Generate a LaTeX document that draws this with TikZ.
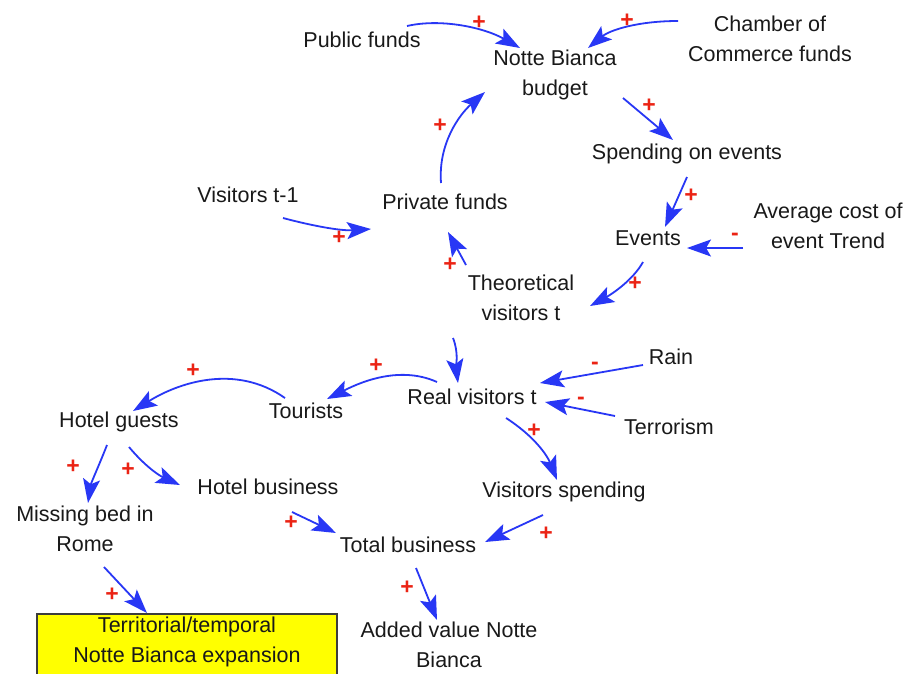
\documentclass[tikz,border=0pt]{standalone}
\usepackage{fontspec}
\setmainfont{Liberation Sans}
\usetikzlibrary{arrows.meta,calc}
\definecolor{cldblue}{RGB}{40,55,245}
\definecolor{cldred}{RGB}{235,35,20}
\definecolor{boxyellow}{RGB}{255,255,0}
\definecolor{boxedge}{RGB}{60,60,60}
\definecolor{txt}{RGB}{25,25,25}
\begin{document}
\begin{tikzpicture}[x=1pt,y=-1pt,
  var/.style={font=\fontsize{21.5}{30}\selectfont, align=center, inner sep=0pt, text=txt},
  link/.style={draw=cldblue, line width=1.8pt, -{Stealth[length=24pt,width=17pt,inset=5pt]}},
  polsign/.style={font=\fontsize{23}{23}\selectfont\bfseries, text=cldred, inner sep=0pt},
  expbox/.style={draw=boxedge, line width=1.5pt, fill=boxyellow, minimum width=300pt, minimum height=90pt, inner sep=0pt}
]
\useasboundingbox[fill=white] (0,0) rectangle (909,673);

% variables
\node[var] (pub)   at (362,40)  {Public funds};
\node[var] (bud)   at (555,75)  {Notte Bianca\\budget};
\node[var] (cham)  at (770,39)  {Chamber of\\Commerce funds};
\node[var] (spend) at (687,154) {Spending on events};
\node[var] (ev)    at (648,238) {Events};
\node[var] (avg)   at (828,226) {Average cost of\\event Trend};
\node[var] (vt1)   at (248,195) {Visitors t-1};
\node[var] (priv)  at (445,202) {Private funds};
\node[var] (theo)  at (521,298) {Theoretical\\visitors t};
\node[var] (real)  at (472,397) {Real visitors t};
\node[var] (rain)  at (671,357) {Rain};
\node[var] (terr)  at (669,427) {Terrorism};
\node[var] (tour)  at (306,411) {Tourists};
\node[var] (hg)    at (119,422) {Hotel guests};
\node[var] (hb)    at (268,487) {Hotel business};
\node[var] (vs)    at (564,492) {Visitors spending};
\node[var] (miss)  at (85,529)  {Missing bed in\\Rome};
\node[var] (tb)    at (408,545) {Total business};
\node[var] (av)    at (449,645) {Added value Notte\\Bianca};
\node[expbox, anchor=north] (exp) at (187,613) {};
\node[var] (expl)  at (187,642) {Territorial/temporal\\Notte Bianca expansion};

% links
\draw[link] ($(pub)+(45,-14)$) .. controls +(35,-8) and +(-35,-20) .. ($(bud)+(-35,-27)$);
\draw[link] ($(cham)+(-92,-18)$) .. controls +(-40,0) and +(22,-18) .. ($(bud)+(33,-27)$);
\draw[link] ($(bud)+(68,23)$) -- ($(spend)+(-14,-14)$);
\draw[link] ($(spend)+(0,23)$) -- ($(ev)+(17,-11)$);
\draw[link] ($(avg)+(-85,22)$) -- ($(ev)+(39,10)$);
\draw[link] ($(ev)+(-5,24)$) .. controls +(-10,18) and +(22,-12) .. ($(theo)+(69,8)$);
\draw[link] ($(theo)+(-55,-33)$) -- ($(priv)+(3,30)$);
\draw[link] ($(vt1)+(35,23)$) .. controls +(30,8) and +(-30,2) .. ($(priv)+(-74,27)$);
\draw[link] ($(priv)+(-4,-19)$) .. controls +(-3,-40) and +(-25,22) .. ($(bud)+(-70,17)$);
\draw[link] ($(theo)+(-68,40)$) .. controls +(6,15) and +(-2,-15) .. ($(real)+(-14,-14)$);
\draw[link] ($(rain)+(-28,8)$) -- ($(real)+(68,-14)$);
\draw[link] ($(terr)+(-54,-11)$) -- ($(real)+(73,5)$);
\draw[link] ($(real)+(-35,-15)$) .. controls +(-40,-18) and +(28,-14) .. ($(tour)+(21,-12)$);
\draw[link] ($(tour)+(-21,-13)$) .. controls +(-50,-35) and +(45,-28) .. ($(hg)+(14,-11)$);
\draw[link] ($(hg)+(-12,23)$) .. controls +(-7,18) and +(3,-20) .. ($(miss)+(3,-26)$);
\draw[link] ($(hg)+(10,25)$) .. controls +(15,18) and +(-22,-10) .. ($(hb)+(-88,-2)$);
\draw[link] ($(real)+(34,21)$) .. controls +(28,18) and +(-10,-25) .. ($(vs)+(-7,-12)$);
\draw[link] ($(vs)+(-21,23)$) -- ($(tb)+(77,-3)$);
\draw[link] ($(hb)+(24,25)$) -- ($(tb)+(-72,-12)$);
\draw[link] ($(tb)+(8,23)$) -- ($(av)+(-12,-25)$);
\draw[link] ($(miss)+(19,38)$) -- ($(exp.north)+(-40,0)$);

% polarities
\node[polsign] (p1)  at (479,23)  {+};
\node[polsign] (p2)  at (627,21)  {+};
\node[polsign] (p3)  at (649,106) {+};
\node[polsign] (p4)  at (691,196) {+};
\node[polsign] (p5)  at (735,237) {-};
\node[polsign] (p6)  at (635,284) {+};
\node[polsign] (p7)  at (450,265) {+};
\node[polsign] (p8)  at (339,238) {+};
\node[polsign] (p9)  at (440,126) {+};
\node[polsign] (p11) at (595,366) {-};
\node[polsign] (p12) at (581,401) {-};
\node[polsign] (p13) at (376,366) {+};
\node[polsign] (p14) at (193,371) {+};
\node[polsign] (p15) at (73,467)  {+};
\node[polsign] (p16) at (128,470) {+};
\node[polsign] (p17) at (534,431) {+};
\node[polsign] (p18) at (546,534) {+};
\node[polsign] (p19) at (291,523) {+};
\node[polsign] (p20) at (407,588) {+};
\node[polsign] (p21) at (112,595) {+};
\end{tikzpicture}
\end{document}
